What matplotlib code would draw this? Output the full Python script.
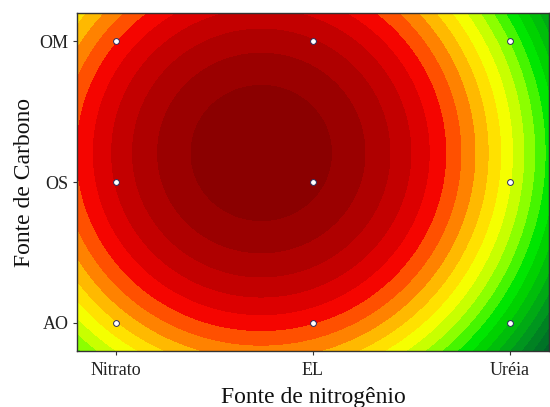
import numpy as np
import matplotlib
matplotlib.use("Agg")
import matplotlib.pyplot as plt
from matplotlib.colors import ListedColormap, BoundaryNorm

n_source = ["Nitrato", "EL", "Uréia"]
c_source = ["AO", "OS", "OM"]
x_coded = np.array([-1, -1, -1, 0, 0, 0, 1, 1, 1])
y_coded = np.array([-1, 0, 1, -1, 0, 1, -1, 0, 1])
response = np.array([13.89, 19.08, 16.92, 17.04, 22.23, 20.07, 6.90, 12.10, 9.93])

# contour levels and band colours (low -> high)
levels = np.arange(0, 24)
band_colors = ["#00552a", "#006428", "#007326", "#008222", "#00961e", "#00aa14",
               "#00be0a", "#00d200", "#00e600", "#46f500", "#8cff00", "#c8ff00",
               "#f5ff00", "#ffe100", "#ffb900", "#ff8200", "#ff5000", "#f50500",
               "#dc0000", "#c30000", "#af0000", "#9b0000", "#8b0000"]

plt.rcParams['font.family'] = ['Liberation Serif', 'DejaVu Serif']


def design(x, y):
    return np.column_stack([np.ones_like(x), x, y, x**2, y**2, x*y])


# second order response surface fit
coef, *_ = np.linalg.lstsq(design(x_coded.astype(float), y_coded.astype(float)), response, rcond=None)

gx = np.linspace(-1.2, 1.2, 400)
gy = np.linspace(-1.2, 1.2, 400)
X, Y = np.meshgrid(gx, gy)
Z = (design(X.ravel(), Y.ravel()) @ coef).reshape(X.shape)

fig = plt.figure(figsize=(5.5, 4.07), dpi=100)
ax = fig.add_axes([0.14, 0.1376, 0.858, 0.8304])

cmap = ListedColormap(band_colors)
norm = BoundaryNorm(levels, cmap.N)
ax.contourf(X, Y, Z, levels=levels, cmap=cmap, norm=norm)

ax.plot(x_coded, y_coded, 'o', ms=4.2, mfc='white', mec='#2a2a5a', mew=0.7, ls='none')

ax.set_xlim(-1.2, 1.2)
ax.set_ylim(-1.2, 1.2)
ax.set_xticks([-1, 0, 1])
ax.set_xticklabels(n_source)
ax.set_yticks([-1, 0, 1])
ax.set_yticklabels(c_source)
ax.tick_params(direction='out', length=3, width=0.8, labelsize=13, colors='#333333',
               labelcolor='#222222')
ax.tick_params(axis='x', pad=5)
ax.tick_params(axis='y', pad=3)
for s in ax.spines.values():
    s.set_color('#333333')
    s.set_linewidth(1.0)

ax.set_xlabel("Fonte de nitrogênio", fontsize=17, labelpad=6, color='#111111')
ax.set_ylabel("Fonte de Carbono", fontsize=17, labelpad=3.5, color='#111111')

fig.savefig("out.png", dpi=100)
